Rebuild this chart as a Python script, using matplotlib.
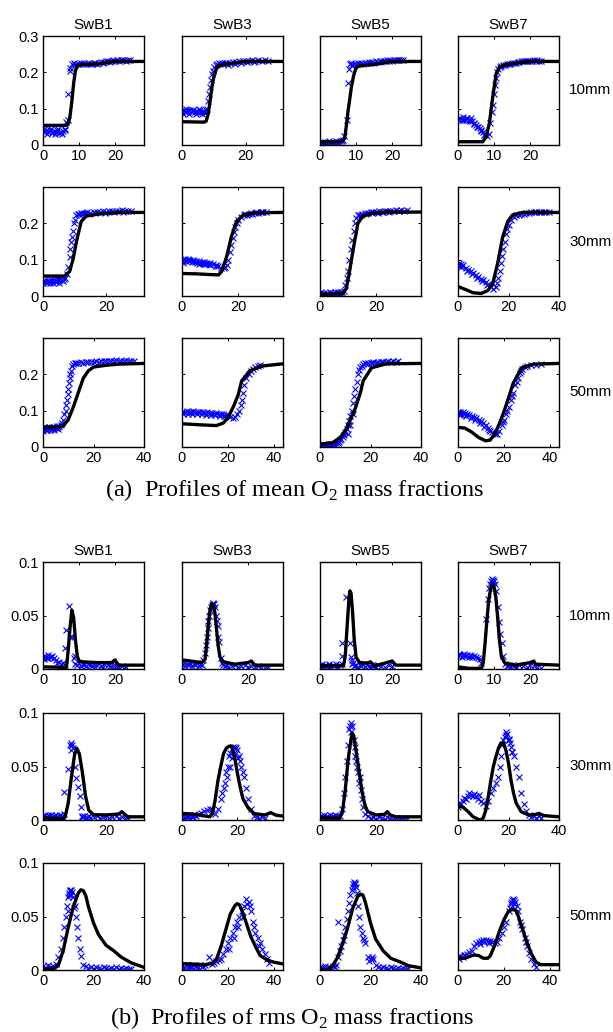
import matplotlib
matplotlib.use("Agg")
import matplotlib.pyplot as plt

plt.rcParams['font.family'] = 'Liberation Sans'
plt.rcParams['mathtext.fontset'] = 'custom'
plt.rcParams['mathtext.rm'] = 'Liberation Serif'

cases = ['SwB1', 'SwB3', 'SwB5', 'SwB7']
heights = ['10mm', '30mm', '50mm']

# ---------------- (a) mean O2 mass fraction ----------------
# SwB1
mean_B1_10_lx = [0, 6.5, 7.0, 7.5, 8.0, 8.5, 9.0, 9.5, 10.5, 13, 15, 17, 19, 20, 28]
mean_B1_10_ly = [0.054, 0.054, 0.058, 0.08, 0.12, 0.17, 0.205, 0.218, 0.221, 0.222, 0.223, 0.226, 0.229, 0.23, 0.23]
mean_B1_10_mx = [0, 0.5, 1, 1.5, 2, 2.5, 3, 3.5, 4, 4.5, 5, 5.5, 6, 0.3, 1.2, 2.2, 3.2, 4.2, 5.2, 6.2,
                 6.5, 6.8, 7.0, 7.4, 7.6, 8, 8.5, 9, 9.5, 10, 10.5, 11, 11.5, 12, 12.5, 13, 13.5, 14, 14.5,
                 15, 15.5, 16, 16.5, 17, 17.5, 18, 18.5, 19, 19.5, 20, 20.5, 21, 21.5, 22, 22.5, 23, 23.5, 24]
mean_B1_10_my = [0.04, 0.035, 0.042, 0.036, 0.04, 0.033, 0.038, 0.035, 0.04, 0.032, 0.036, 0.038, 0.04,
                 0.045, 0.03, 0.044, 0.031, 0.043, 0.03, 0.045,
                 0.062, 0.07, 0.14, 0.205, 0.212, 0.222, 0.225, 0.22, 0.224, 0.223, 0.226, 0.222, 0.225,
                 0.223, 0.226, 0.224, 0.222, 0.225, 0.226, 0.224, 0.227, 0.228, 0.226, 0.229, 0.23, 0.231,
                 0.229, 0.232, 0.233, 0.231, 0.234, 0.232, 0.235, 0.233, 0.234, 0.232, 0.234, 0.233]

mean_B1_30_lx = [0, 6.8, 8.4, 9.5, 10.7, 12.1, 13.7, 17.9, 24.2, 32]
mean_B1_30_ly = [0.055, 0.055, 0.067, 0.1, 0.154, 0.205, 0.22, 0.226, 0.23, 0.23]
mean_B1_30_mx = [0, 0.5, 1, 1.5, 2, 2.5, 3, 3.5, 4, 4.5, 5, 5.5, 6, 6.5, 7, 0.2, 1.2, 2.2, 3.2, 4.2, 5.2, 6.2,
                 7.5, 8, 8.4, 8.7, 9, 9.3, 9.5, 9.7, 10, 10.5, 11, 11.5, 12, 12.5, 13, 13.5, 14, 15, 16,
                 17, 18, 19, 20, 21, 22, 23, 24, 25, 26, 27, 28, 14.5, 16.5, 19.5, 22.5, 25.5]
mean_B1_30_my = [0.035, 0.04, 0.038, 0.042, 0.04, 0.044, 0.041, 0.045, 0.042, 0.046, 0.043, 0.047, 0.045,
                 0.048, 0.05, 0.045, 0.036, 0.037, 0.036, 0.038, 0.037, 0.04,
                 0.06, 0.08, 0.108, 0.13, 0.15, 0.163, 0.18, 0.2, 0.21, 0.223, 0.226, 0.225, 0.228, 0.227,
                 0.229, 0.228, 0.23, 0.229, 0.231, 0.232, 0.231, 0.233, 0.232, 0.234, 0.233, 0.235, 0.234,
                 0.236, 0.235, 0.234, 0.235, 0.226, 0.228, 0.229, 0.231, 0.232]

mean_B1_50_lx = [0, 6, 8, 10, 12, 14, 16, 18, 20, 25, 30, 40]
mean_B1_50_ly = [0.055, 0.055, 0.058, 0.075, 0.11, 0.15, 0.19, 0.21, 0.22, 0.225, 0.228, 0.23]
mean_B1_50_mx = [0, 0.5, 1, 1.5, 2, 2.5, 3, 3.5, 4, 4.5, 5, 5.5, 6, 6.5, 7, 0.3, 1.5, 3, 4.5, 6,
                 7.5, 8, 8.5, 9, 9.3, 9.5, 9.8, 10, 10.3, 10.5, 10.8, 11, 11.5, 12, 12.5, 13, 14, 15, 16,
                 17, 18, 19, 20, 21, 22, 23, 24, 25, 26, 27, 28, 29, 30, 31, 32, 33, 34, 35, 36]
mean_B1_50_my = [0.045, 0.05, 0.048, 0.052, 0.05, 0.054, 0.051, 0.055, 0.052, 0.056, 0.053, 0.057, 0.055,
                 0.058, 0.06, 0.055, 0.046, 0.047, 0.048, 0.05,
                 0.065, 0.075, 0.09, 0.1, 0.115, 0.13, 0.145, 0.16, 0.175, 0.19, 0.2, 0.21, 0.222, 0.228,
                 0.23, 0.232, 0.231, 0.233, 0.232, 0.234, 0.233, 0.235, 0.234, 0.236, 0.235, 0.237, 0.236,
                 0.238, 0.237, 0.238, 0.237, 0.239, 0.238, 0.237, 0.238, 0.239, 0.238, 0.237, 0.238]

# SwB3
mean_B3_10_lx = [0, 7, 7.6, 8.2, 8.8, 9.4, 10, 10.8, 11.6, 13, 16, 20, 31.7]
mean_B3_10_ly = [0.064, 0.063, 0.066, 0.085, 0.12, 0.16, 0.188, 0.21, 0.218, 0.221, 0.225, 0.23, 0.23]
mean_B3_10_mx = [0, 0.5, 1, 1.5, 2, 2.5, 3, 3.5, 4, 4.5, 5, 5.5, 6, 6.5, 7, 7.5, 0.3, 1.3, 2.3, 3.3, 4.3,
                 5.3, 6.3, 7.3, 8, 8.3, 8.6, 8.9, 9.2, 9.5, 9.8, 10.2, 10.6, 11, 11.5, 12, 12.5, 13, 13.5,
                 14, 15, 16, 17, 18, 19, 20, 21, 22, 23, 24, 25, 26, 27, 14.5, 16.5, 18.5, 20.5, 22.5]
mean_B3_10_my = [0.09, 0.095, 0.092, 0.096, 0.093, 0.097, 0.092, 0.095, 0.09, 0.094, 0.091, 0.095, 0.09,
                 0.094, 0.092, 0.095, 0.085, 0.098, 0.086, 0.097, 0.086, 0.098, 0.086, 0.088,
                 0.1, 0.12, 0.14, 0.16, 0.18, 0.195, 0.205, 0.215, 0.22, 0.222, 0.225, 0.223, 0.226,
                 0.224, 0.227, 0.225, 0.227, 0.228, 0.229, 0.23, 0.231, 0.232, 0.231, 0.233, 0.232, 0.233,
                 0.232, 0.233, 0.231, 0.221, 0.224, 0.226, 0.228, 0.229]

mean_B3_30_lx = [0, 5, 10, 13, 14.1, 15.9, 17.6, 19.4, 21.8, 25.3, 36]
mean_B3_30_ly = [0.062, 0.061, 0.059, 0.058, 0.067, 0.108, 0.163, 0.205, 0.223, 0.229, 0.23]
mean_B3_30_mx = [0, 0.5, 1, 1.5, 2, 2.5, 3, 3.5, 4, 4.5, 5, 5.5, 6, 6.5, 7, 7.5, 8, 8.5, 9, 9.5, 10,
                 11, 12, 13, 14, 15, 0.5, 2, 4, 6, 8, 10, 12, 15.5, 16, 16.5, 17, 17.5, 18, 18.5, 19,
                 19.5, 20, 21, 22, 23, 24, 25, 26, 27, 28, 29, 30, 22.5, 24.5, 26.5, 28.5]
mean_B3_30_my = [0.1, 0.097, 0.101, 0.096, 0.099, 0.095, 0.098, 0.094, 0.097, 0.093, 0.096, 0.092, 0.095,
                 0.091, 0.094, 0.09, 0.093, 0.089, 0.092, 0.088, 0.09, 0.088, 0.086, 0.083, 0.078, 0.076,
                 0.092, 0.102, 0.1, 0.089, 0.088, 0.085, 0.082,
                 0.08, 0.085, 0.1, 0.12, 0.14, 0.16, 0.175, 0.19, 0.2, 0.21, 0.218, 0.222, 0.224, 0.226,
                 0.227, 0.228, 0.229, 0.23, 0.231, 0.232, 0.225, 0.228, 0.23, 0.232]

mean_B3_50_lx = [0, 8, 15, 18, 20.2, 22.4, 24.5, 26, 29.6, 35, 44]
mean_B3_50_ly = [0.064, 0.061, 0.059, 0.066, 0.083, 0.111, 0.144, 0.182, 0.21, 0.223, 0.229]
mean_B3_50_mx = [0, 1, 2, 3, 4, 5, 6, 7, 8, 9, 10, 11, 12, 13, 14, 15, 16, 17, 18, 19, 0.5, 2.5, 4.5,
                 6.5, 8.5, 10.5, 12.5, 14.5, 16.5, 18.5, 20, 21, 22, 23, 24, 25, 25.5, 26, 26.5, 27, 28,
                 29, 30, 31, 32, 33, 34]
mean_B3_50_my = [0.097, 0.096, 0.098, 0.097, 0.096, 0.098, 0.096, 0.097, 0.095, 0.096, 0.094, 0.095,
                 0.093, 0.094, 0.092, 0.093, 0.091, 0.09, 0.09, 0.088, 0.091, 0.092, 0.09, 0.091, 0.09,
                 0.089, 0.088, 0.087, 0.086, 0.084, 0.087, 0.083, 0.08, 0.082, 0.09, 0.1, 0.115, 0.13,
                 0.15, 0.17, 0.19, 0.2, 0.21, 0.215, 0.22, 0.222, 0.225]

# SwB5
mean_B5_10_lx = [0, 5, 6.4, 6.9, 7.4, 7.8, 8.3, 8.7, 9.3, 9.9, 10.6, 12, 15, 20, 28]
mean_B5_10_ly = [0.009, 0.009, 0.012, 0.023, 0.06, 0.096, 0.13, 0.16, 0.19, 0.21, 0.217, 0.219, 0.222, 0.23, 0.23]
mean_B5_10_mx = [0, 0.5, 1, 1.5, 2, 2.5, 3, 3.5, 4, 4.5, 5, 5.5, 6, 0.3, 1.3, 2.3, 3.3, 4.3, 5.3,
                 6.3, 6.6, 7.4, 7.8, 8.0, 8.2, 8.5, 9, 9.5, 10, 10.5, 11, 11.5, 12, 12.5, 13, 13.5, 14,
                 14.5, 15, 15.5, 16, 16.5, 17, 17.5, 18, 18.5, 19, 19.5, 20, 20.5, 21, 21.5, 22, 22.5, 23]
mean_B5_10_my = [0.004, 0.008, 0.005, 0.009, 0.006, 0.01, 0.006, 0.009, 0.005, 0.011, 0.007, 0.012, 0.01,
                 0.002, 0.003, 0.004, 0.003, 0.004, 0.005,
                 0.015, 0.025, 0.069, 0.17, 0.21, 0.222, 0.225, 0.221, 0.224, 0.222, 0.225, 0.223, 0.226,
                 0.224, 0.227, 0.225, 0.228, 0.226, 0.229, 0.227, 0.23, 0.228, 0.231, 0.229, 0.232, 0.23,
                 0.233, 0.231, 0.234, 0.232, 0.235, 0.233, 0.234, 0.233, 0.235, 0.233]

mean_B5_30_lx = [0, 8, 9.4, 10.4, 11.8, 13.5, 15.3, 18.8, 23.5, 36]
mean_B5_30_ly = [0.005, 0.006, 0.021, 0.062, 0.127, 0.2, 0.22, 0.228, 0.231, 0.231]
mean_B5_30_mx = [0, 0.5, 1, 1.5, 2, 2.5, 3, 3.5, 4, 4.5, 5, 5.5, 6, 6.5, 7, 7.5, 8, 0.3, 2, 4, 6,
                 8.5, 9, 9.5, 10, 10.5, 11, 11.5, 12, 12.5, 13, 13.5, 14, 15, 16, 17, 18, 19, 20, 21, 22,
                 23, 24, 25, 26, 27, 28, 29, 30, 31, 14.5, 16.5, 18.5, 20.5, 22.5, 24.5]
mean_B5_30_my = [0.0, 0.006, 0.003, 0.008, 0.004, 0.009, 0.005, 0.01, 0.006, 0.009, 0.005, 0.011, 0.007,
                 0.01, 0.008, 0.012, 0.01, 0.012, 0.001, 0.002, 0.003,
                 0.015, 0.03, 0.05, 0.07, 0.1, 0.13, 0.155, 0.18, 0.2, 0.215, 0.222, 0.224, 0.226, 0.228,
                 0.229, 0.23, 0.231, 0.232, 0.233, 0.232, 0.234, 0.233, 0.235, 0.234, 0.236, 0.235, 0.236,
                 0.235, 0.236, 0.222, 0.226, 0.228, 0.229, 0.23, 0.231]

mean_B5_50_lx = [0, 5, 8, 10, 12, 14, 16, 17.1, 20.4, 26.3, 40]
mean_B5_50_ly = [0.008, 0.012, 0.026, 0.045, 0.074, 0.107, 0.149, 0.182, 0.218, 0.229, 0.23]
mean_B5_50_mx = [0, 0.5, 1, 1.5, 2, 2.5, 3, 3.5, 4, 4.5, 5, 5.5, 6, 6.5, 7, 7.5, 8, 8.5, 9, 9.5,
                 10, 10.5, 11, 11.5, 12, 12.5, 13, 13.5, 14, 14.5, 15, 15.5, 16, 17, 18, 19, 20, 21, 22,
                 23, 24, 25, 26, 27, 28, 29, 30, 31, 16.5, 18.5, 20.5, 22.5, 24.5, 11, 12, 13]
mean_B5_50_my = [-0.002, 0.004, 0.0, 0.005, 0.001, 0.006, 0.002, 0.007, 0.003, 0.008, 0.004, 0.009,
                 0.006, 0.01, 0.01, 0.015, 0.018, 0.022, 0.028, 0.033, 0.04, 0.05, 0.06, 0.072, 0.085,
                 0.1, 0.12, 0.14, 0.16, 0.18, 0.2, 0.212, 0.22, 0.228, 0.23, 0.231, 0.232, 0.233, 0.232,
                 0.234, 0.233, 0.235, 0.234, 0.236, 0.235, 0.236, 0.235, 0.236, 0.224, 0.229, 0.23, 0.232,
                 0.233, 0.035, 0.06, 0.09]

# SwB7
mean_B7_10_lx = [0, 6.9, 7.8, 8.7, 9.6, 10.6, 11.5, 13.3, 16, 20, 28]
mean_B7_10_ly = [0.009, 0.009, 0.023, 0.06, 0.13, 0.197, 0.215, 0.222, 0.225, 0.23, 0.23]
mean_B7_10_mx = [0, 0.5, 1, 1.5, 2, 2.5, 3, 3.5, 0.3, 1.3, 2.3, 3.3, 4, 4.5, 5, 5.5, 6, 6.5, 7, 7.5, 8,
                 4.3, 5.3, 6.3, 7.3, 8.5, 9, 9.3, 9.6, 9.9, 10.2, 10.5, 10.8, 11.2, 11.6, 12, 12.5, 13,
                 13.5, 14, 14.5, 15, 15.5, 16, 16.5, 17, 17.5, 18, 18.5, 19, 19.5, 20, 20.5, 21, 21.5,
                 22, 22.5, 23]
mean_B7_10_my = [0.072, 0.075, 0.07, 0.076, 0.071, 0.075, 0.07, 0.074, 0.068, 0.068, 0.069, 0.067,
                 0.065, 0.06, 0.056, 0.05, 0.046, 0.04, 0.036, 0.03, 0.025, 0.058, 0.05, 0.038, 0.027,
                 0.03, 0.06, 0.09, 0.11, 0.14, 0.165, 0.185, 0.2, 0.21, 0.215, 0.218, 0.22, 0.221, 0.222,
                 0.223, 0.224, 0.225, 0.226, 0.227, 0.228, 0.229, 0.23, 0.231, 0.23, 0.232, 0.231, 0.232,
                 0.231, 0.233, 0.232, 0.233, 0.232, 0.231]

mean_B7_30_lx = [0, 3.3, 5.9, 9.2, 11.8, 13.8, 15.7, 17.7, 19.7, 21.6, 25.6, 40]
mean_B7_30_ly = [0.026, 0.017, 0.009, 0.007, 0.015, 0.035, 0.09, 0.163, 0.205, 0.223, 0.23, 0.23]
mean_B7_30_mx = [0, 0.5, 1, 1.5, 2, 0.3, 1.2, 3, 4, 5, 6, 7, 8, 9, 10, 11, 12, 13, 14, 3.5, 5.5, 7.5,
                 9.5, 11.5, 15, 15.5, 16, 16.5, 17, 17.5, 18, 18.5, 19, 19.5, 20, 21, 22, 23, 24, 25, 26,
                 27, 28, 29, 30, 31, 32, 33, 34, 35, 36]
mean_B7_30_my = [0.085, 0.082, 0.088, 0.083, 0.086, 0.09, 0.079, 0.078, 0.072, 0.068, 0.062, 0.058,
                 0.052, 0.048, 0.044, 0.038, 0.032, 0.026, 0.02, 0.07, 0.06, 0.05, 0.04, 0.03,
                 0.025, 0.035, 0.05, 0.07, 0.09, 0.11, 0.13, 0.15, 0.17, 0.185, 0.195, 0.21, 0.218, 0.222,
                 0.224, 0.226, 0.227, 0.228, 0.229, 0.23, 0.231, 0.23, 0.232, 0.231, 0.232, 0.231, 0.232]

mean_B7_50_lx = [0, 3, 6, 9, 12, 14, 16, 18, 20, 22, 24, 27.7, 32.7, 44]
mean_B7_50_ly = [0.054, 0.052, 0.041, 0.026, 0.017, 0.019, 0.036, 0.064, 0.097, 0.135, 0.175, 0.218, 0.228, 0.23]
mean_B7_50_mx = [0, 0.5, 1, 1.5, 2, 2.5, 3, 4, 5, 6, 7, 8, 9, 10, 11, 12, 13, 14, 15, 16, 17, 0.8, 3.5,
                 5.5, 7.5, 9.5, 11.5, 13.5, 18, 19, 20, 21, 22, 23, 24, 25, 26, 27, 28, 29, 30, 32, 34, 36,
                 19.5, 21.5, 23.5, 25.5, 27.5]
mean_B7_50_my = [0.095, 0.092, 0.096, 0.091, 0.095, 0.09, 0.093, 0.09, 0.088, 0.085, 0.082, 0.079, 0.075,
                 0.071, 0.066, 0.06, 0.053, 0.045, 0.04, 0.035, 0.035, 0.087, 0.085, 0.08, 0.074, 0.066,
                 0.056, 0.046, 0.045, 0.06, 0.075, 0.09, 0.11, 0.13, 0.15, 0.17, 0.19, 0.205, 0.215,
                 0.22, 0.222, 0.225, 0.227, 0.228, 0.07, 0.1, 0.14, 0.18, 0.21]

# ---------------- (b) rms O2 mass fraction ----------------
rms_B1_10_lx = [0, 6.5, 7, 7.5, 8, 8.5, 9, 9.5, 10, 11, 15, 19, 20, 20.5, 21, 28]
rms_B1_10_ly = [0.002, 0.0015, 0.018, 0.039, 0.055, 0.048, 0.027, 0.012, 0.0075, 0.0067, 0.006, 0.006,
                0.0085, 0.0055, 0.0036, 0.0036]
rms_B1_10_mx = [0, 0.5, 1, 1.5, 2, 2.5, 3, 0.3, 1.3, 2.3, 3.5, 4, 4.5, 5, 5.5, 6, 6, 6.3, 7.1, 7.4, 8.1,
                8.5, 8.8, 9, 9.5, 10, 10.5, 11, 11.5, 12, 12.5, 13, 13.5, 14, 15, 16, 17, 18, 19, 20, 21,
                22, 23, 14.5, 16.5, 18.5, 20.5, 22.5]
rms_B1_10_my = [0.011, 0.012, 0.01, 0.013, 0.011, 0.012, 0.01, 0.009, 0.01, 0.011, 0.008, 0.006, 0.007,
                0.005, 0.006, 0.004, 0.02, 0.036, 0.059, 0.03, 0.03, 0.01, 0.012, 0.005, 0.004, 0.006,
                0.003, 0.005, 0.004, 0.003, 0.005, 0.004, 0.003, 0.005, 0.004, 0.003, 0.005, 0.004, 0.003,
                0.004, 0.002, 0.003, 0.002, 0.002, 0.002, 0.003, 0.002, 0.001]

rms_B1_30_lx = [0, 6.5, 7, 8, 9, 10, 10.7, 11.5, 12.5, 13.5, 14.5, 16, 20, 24, 25, 26, 27, 32]
rms_B1_30_ly = [0.002, 0.001, 0.003, 0.016, 0.04, 0.061, 0.067, 0.062, 0.044, 0.022, 0.009, 0.005,
                0.0047, 0.0056, 0.0078, 0.005, 0.003, 0.003]
rms_B1_30_mx = [0, 0.5, 1, 1.5, 2, 2.5, 3, 3.5, 4, 4.5, 5, 5.5, 6, 6.5, 6.8, 7.9, 8.6, 9, 9.5, 10, 10.5,
                11, 11.6, 11.9, 12.2, 12.5, 13, 13.5, 14, 14.5, 15, 16, 17, 18, 19, 20, 21, 22, 23, 24,
                25, 26, 27, 9.2, 8.9]
rms_B1_30_my = [0.004, 0.005, 0.003, 0.005, 0.004, 0.005, 0.003, 0.004, 0.005, 0.003, 0.004, 0.005,
                0.004, 0.006, 0.026, 0.048, 0.07, 0.072, 0.067, 0.05, 0.039, 0.031, 0.022, 0.012, 0.004,
                0.003, 0.004, 0.002, 0.003, 0.004, 0.002, 0.003, 0.004, 0.002, 0.003, 0.004, 0.002,
                0.003, 0.004, 0.002, 0.003, 0.002, 0.001, 0.07, 0.065]

rms_B1_50_lx = [0, 4, 6, 8, 10, 12, 14, 15, 16, 17, 18, 20, 22, 25, 28, 31, 35, 40]
rms_B1_50_ly = [0.001, 0.001, 0.004, 0.018, 0.04, 0.059, 0.072, 0.075, 0.074, 0.069, 0.059, 0.044,
                0.033, 0.023, 0.018, 0.012, 0.0066, 0.0025]
rms_B1_50_mx = [0, 1, 2, 3, 4, 5, 6, 7, 8, 8.5, 9, 9.5, 10, 10.3, 10.5, 10.8, 11, 11.5, 12, 12.5, 13,
                13.5, 14, 14.5, 15, 16, 17, 18, 19, 20, 21, 22, 23, 24, 25, 26, 27, 28, 29, 30, 31, 32,
                33, 34, 35, 0.5, 2.5, 9.8, 10.2, 11.2, 12.2]
rms_B1_50_my = [0.004, 0.002, 0.005, 0.003, 0.004, 0.006, 0.012, 0.02, 0.03, 0.04, 0.05, 0.06, 0.068,
                0.072, 0.074, 0.075, 0.075, 0.073, 0.068, 0.06, 0.05, 0.04, 0.03, 0.02, 0.013, 0.005,
                0.004, 0.002, 0.003, 0.001, 0.003, 0.002, 0.001, 0.003, 0.002, 0.001, 0.002, 0.001,
                0.003, 0.001, 0.002, 0.001, 0.002, 0.001, 0.001, 0.001, 0.002, 0.055, 0.07, 0.07, 0.058]

rms_B3_10_lx = [0, 6, 7, 7.5, 8, 8.5, 9, 9.5, 10, 10.5, 11, 11.5, 12.5, 16, 20, 21, 22, 30.6]
rms_B3_10_ly = [0.0085, 0.006, 0.009, 0.024, 0.042, 0.055, 0.061, 0.06, 0.052, 0.036, 0.021, 0.011,
                0.0067, 0.0045, 0.006, 0.0075, 0.0036, 0.0036]
rms_B3_10_mx = [0, 0.5, 1, 1.5, 2, 2.5, 3, 3.5, 4, 4.5, 5, 5.5, 6, 6.5, 7, 7.3, 7.5, 7.8, 8, 8.3, 8.5,
                8.8, 9, 9.3, 9.5, 9.8, 10, 10.3, 10.6, 10.8, 11, 11.3, 11.8, 12, 12.5, 13, 13.5, 14, 15,
                16, 17, 18, 19, 20, 21, 22, 23, 24, 25, 26]
rms_B3_10_my = [0.004, 0.006, 0.003, 0.005, 0.004, 0.006, 0.003, 0.005, 0.004, 0.006, 0.003, 0.005,
                0.004, 0.008, 0.015, 0.022, 0.03, 0.038, 0.045, 0.05, 0.055, 0.058, 0.06, 0.061, 0.062,
                0.061, 0.058, 0.05, 0.045, 0.04, 0.03, 0.025, 0.01, 0.006, 0.004, 0.003, 0.004, 0.002,
                0.003, 0.004, 0.002, 0.003, 0.004, 0.002, 0.003, 0.002, 0.003, 0.002, 0.001, 0.002]

rms_B3_30_lx = [0, 5, 10, 11, 12, 13, 14, 15, 16, 17, 18, 19, 20, 21, 22, 24, 26, 30, 32, 34, 36.5]
rms_B3_30_ly = [0.0062, 0.0053, 0.003, 0.006, 0.019, 0.037, 0.05, 0.062, 0.067, 0.069, 0.069, 0.059,
                0.044, 0.031, 0.02, 0.011, 0.006, 0.0047, 0.0069, 0.0045, 0.0037]
rms_B3_30_mx = [0, 0.5, 1, 1.5, 2, 2.5, 3, 3.5, 4, 4.5, 5, 6, 7, 8, 9, 10, 11, 12, 13, 14, 14.5, 15, 15.5,
                16, 16.5, 17, 17.5, 18, 18.5, 19, 19.5, 20, 20.5, 21, 21.5, 22, 22.5, 23, 24, 25, 26, 27,
                28, 29, 30, 17.2, 18.2, 19.2, 20.2, 16.2]
rms_B3_30_my = [0.003, 0.005, 0.002, 0.004, 0.003, 0.005, 0.002, 0.004, 0.003, 0.005, 0.004, 0.006,
                0.007, 0.008, 0.009, 0.01, 0.01, 0.006, 0.01, 0.02, 0.025, 0.03, 0.035, 0.045, 0.05,
                0.06, 0.063, 0.066, 0.068, 0.068, 0.067, 0.065, 0.06, 0.055, 0.05, 0.045, 0.04, 0.03,
                0.02, 0.01, 0.004, 0.003, 0.002, 0.003, 0.002, 0.05, 0.058, 0.062, 0.058, 0.04]

rms_B3_50_lx = [0, 10, 13, 15, 17, 19, 21, 23, 24, 25, 26, 28, 30, 32, 34, 37, 40, 44]
rms_B3_50_ly = [0.006, 0.005, 0.006, 0.01, 0.022, 0.037, 0.052, 0.06, 0.062, 0.061, 0.056, 0.044,
                0.031, 0.022, 0.0136, 0.0095, 0.0073, 0.0057]
rms_B3_50_mx = [0, 1, 2, 3, 4, 5, 6, 7, 8, 9, 10, 11.6, 13, 14, 15, 16, 17, 18, 19, 20, 21, 22, 23, 24,
                25, 26, 27, 28, 29, 30, 31, 32, 33, 34, 35, 36, 37, 38, 0.5, 2.5, 4.5, 6.5, 8.5, 20.5,
                22.5, 24.5, 26.5, 28.5, 29.5, 31.5, 33.5]
rms_B3_50_my = [0.004, 0.003, 0.005, 0.004, 0.003, 0.005, 0.004, 0.003, 0.005, 0.004, 0.005, 0.012,
                0.006, 0.007, 0.008, 0.009, 0.01, 0.015, 0.02, 0.025, 0.03, 0.035, 0.04, 0.045, 0.05,
                0.055, 0.06, 0.066, 0.064, 0.055, 0.045, 0.035, 0.03, 0.025, 0.02, 0.015, 0.01, 0.007,
                0.002, 0.002, 0.003, 0.002, 0.003, 0.02, 0.03, 0.04, 0.05, 0.062, 0.06, 0.04, 0.022]

rms_B5_10_lx = [0, 6.5, 7, 7.5, 8, 8.3, 8.6, 9, 9.5, 10, 11, 13, 14, 15, 17, 20, 21, 28]
rms_B5_10_ly = [0.003, 0.003, 0.012, 0.039, 0.064, 0.073, 0.071, 0.055, 0.027, 0.011, 0.006, 0.0055,
                0.0067, 0.003, 0.0045, 0.0075, 0.0036, 0.0036]
rms_B5_10_mx = [0, 0.5, 1, 1.5, 2, 2.5, 3, 3.5, 4, 4.5, 5, 5.5, 6, 6, 6.2, 7.1, 8.3, 8.7, 9, 9.5, 10,
                10.5, 11, 11.5, 12, 12.5, 13, 13.5, 14, 14.5, 15, 15.5, 16, 17, 18, 19, 20, 0.3, 2.3, 4.3,
                8.8, 9.2]
rms_B5_10_my = [0.003, 0.005, 0.002, 0.004, 0.003, 0.005, 0.002, 0.004, 0.003, 0.005, 0.002, 0.004,
                0.005, 0.012, 0.024, 0.067, 0.024, 0.011, 0.005, 0.003, 0.004, 0.002, 0.004, 0.003,
                0.005, 0.002, 0.004, 0.003, 0.002, 0.004, 0.003, 0.002, 0.004, 0.003, 0.002, 0.004,
                0.003, 0.001, 0.001, 0.001, 0.008, 0.006]

rms_B5_30_lx = [0, 7, 8, 9, 10, 11, 11.5, 12, 13, 14, 15, 16, 17, 20, 23, 24, 25, 27, 36]
rms_B5_30_ly = [0.002, 0.0016, 0.0078, 0.028, 0.056, 0.075, 0.081, 0.079, 0.062, 0.044, 0.026, 0.014,
                0.0078, 0.0047, 0.0053, 0.0078, 0.0047, 0.003, 0.003]
rms_B5_30_mx = [0, 0.5, 1, 1.5, 2, 2.5, 3, 3.5, 4, 4.5, 5, 5.5, 6, 6.5, 7, 8, 8.5, 9, 9.5, 10, 10.5, 11,
                11.5, 12, 12.5, 13, 13.5, 14, 14.5, 15, 15.5, 16, 17, 18, 19, 20, 21, 22, 23, 24, 25, 26,
                27, 28, 29, 30, 31, 10.8, 11.2, 12.3, 13.2, 14.2]
rms_B5_30_my = [0.002, 0.004, 0.003, 0.005, 0.002, 0.004, 0.003, 0.005, 0.002, 0.004, 0.003, 0.005,
                0.004, 0.003, 0.004, 0.01, 0.025, 0.04, 0.055, 0.07, 0.085, 0.091, 0.088, 0.075, 0.06,
                0.055, 0.045, 0.035, 0.028, 0.02, 0.012, 0.006, 0.004, 0.002, 0.003, 0.001, 0.003, 0.002,
                0.001, 0.003, 0.002, 0.001, 0.002, 0.001, 0.002, 0.001, 0.001, 0.088, 0.082, 0.068,
                0.05, 0.04]

rms_B5_50_lx = [0, 3, 5, 7, 9, 11, 13, 15, 16, 17, 18, 20, 22, 25, 28, 32, 35, 40]
rms_B5_50_ly = [0.0, 0.0, 0.004, 0.012, 0.025, 0.04, 0.058, 0.069, 0.071, 0.07, 0.063, 0.044, 0.029,
                0.018, 0.011, 0.0073, 0.004, 0.002]
rms_B5_50_mx = [0, 1, 2, 3, 4, 5, 6, 6.5, 7, 7.3, 8, 8.5, 9, 9.5, 10, 10.5, 11, 11.5, 12, 12.5, 13, 13.5,
                14, 14.5, 15, 15.5, 16, 16.5, 17, 17.5, 18, 19, 20, 21, 22, 23, 24, 25, 26, 27, 28, 29,
                30, 31, 32, 33, 34, 35, 0.5, 2.5, 4.5, 13.2, 13.8, 14.2, 19.5, 20.5]
rms_B5_50_my = [0.003, 0.002, 0.004, 0.003, 0.002, 0.004, 0.003, 0.005, 0.012, 0.045, 0.018, 0.022,
                0.028, 0.033, 0.04, 0.048, 0.055, 0.063, 0.07, 0.075, 0.08, 0.082, 0.08, 0.072, 0.06,
                0.05, 0.04, 0.035, 0.03, 0.028, 0.025, 0.012, 0.01, 0.01, 0.005, 0.003, 0.002, 0.003,
                0.002, 0.001, 0.003, 0.002, 0.001, 0.002, 0.001, 0.002, 0.001, 0.001, 0.002, 0.001,
                0.002, 0.078, 0.081, 0.078, 0.008, 0.012]

rms_B7_10_lx = [0, 3, 6.5, 7, 7.5, 8, 8.5, 9, 9.5, 10, 10.5, 11, 11.5, 12, 13, 16, 20, 21, 21.5, 28]
rms_B7_10_ly = [0.002, 0.0006, 0.0006, 0.006, 0.024, 0.045, 0.064, 0.074, 0.079, 0.077, 0.067, 0.048,
                0.027, 0.012, 0.0055, 0.0036, 0.006, 0.0075, 0.0045, 0.0036]
rms_B7_10_mx = [0, 0.5, 1, 1.5, 2, 2.5, 3, 3.5, 4, 4.5, 5, 5.5, 6, 6.5, 7.8, 8.3, 8.7, 9.2, 9.6, 10.1,
                10.6, 11, 11.5, 11.7, 12.1, 12.4, 13, 13.5, 14, 14.5, 15, 15.5, 16, 17, 18, 19, 20, 21,
                22, 23, 9.4, 9.8, 9.0, 10.3, 0.3, 1.8, 3.3]
rms_B7_10_my = [0.012, 0.013, 0.011, 0.013, 0.012, 0.013, 0.011, 0.012, 0.011, 0.012, 0.011, 0.01,
                0.009, 0.006, 0.047, 0.065, 0.076, 0.082, 0.083, 0.082, 0.073, 0.058, 0.044, 0.033,
                0.024, 0.012, 0.005, 0.003, 0.004, 0.002, 0.004, 0.003, 0.002, 0.004, 0.003, 0.002,
                0.004, 0.003, 0.002, 0.001, 0.084, 0.081, 0.079, 0.079, 0.014, 0.014, 0.013]

rms_B7_30_lx = [0, 2, 4, 6, 8, 9, 10, 11, 12, 13, 14, 15, 16, 17, 18, 19, 20, 21, 22, 23, 25, 28, 31,
                32, 34, 40]
rms_B7_30_ly = [0.013, 0.012, 0.0078, 0.003, 0.0006, 0.0, 0.002, 0.009, 0.022, 0.037, 0.05, 0.059,
                0.067, 0.072, 0.072, 0.065, 0.053, 0.037, 0.025, 0.016, 0.0078, 0.0047, 0.0053, 0.0062,
                0.0041, 0.003]
rms_B7_30_mx = [0, 1, 2, 3, 4, 5, 6, 7, 8, 9, 10, 11, 12, 13, 14, 15, 16, 16.5, 17, 17.5, 18, 18.5, 19,
                19.5, 20, 20.5, 21, 21.5, 22, 23, 24, 25, 26, 27, 28, 29, 30, 31, 32, 33, 0.5, 2.5, 4.5,
                6.5, 8.5, 19.2, 20.2, 21.2]
rms_B7_30_my = [0.012, 0.015, 0.018, 0.02, 0.022, 0.023, 0.022, 0.022, 0.02, 0.018, 0.016, 0.013,
                0.018, 0.025, 0.03, 0.035, 0.04, 0.05, 0.06, 0.07, 0.075, 0.078, 0.079, 0.08, 0.076,
                0.072, 0.068, 0.064, 0.06, 0.05, 0.04, 0.025, 0.015, 0.008, 0.005, 0.003, 0.004, 0.002,
                0.004, 0.002, 0.016, 0.021, 0.025, 0.024, 0.023, 0.082, 0.075, 0.064]

rms_B7_50_lx = [0, 3, 5, 7, 9, 11, 13, 14, 16, 18, 20, 22, 24, 25, 26, 28, 30, 32, 34, 36, 40, 44]
rms_B7_50_ly = [0.011, 0.011, 0.0127, 0.014, 0.0135, 0.011, 0.011, 0.013, 0.023, 0.036, 0.047, 0.055,
                0.057, 0.056, 0.052, 0.039, 0.026, 0.015, 0.0073, 0.005, 0.005, 0.005]
rms_B7_50_mx = [0, 1, 2, 3, 4, 5, 6, 7, 8, 9, 10, 11, 12, 13, 14, 15, 16, 17, 18, 19, 20, 21, 22, 23,
                23.5, 24, 24.5, 25, 26, 27, 28, 29, 30, 31, 32, 33, 34, 0.5, 2.5, 9.5, 11.5, 13.5,
                22.5, 23.2, 24.2, 25.5, 27.5, 29.5]
rms_B7_50_my = [0.012, 0.013, 0.012, 0.014, 0.015, 0.017, 0.018, 0.022, 0.025, 0.026, 0.027, 0.028,
                0.028, 0.027, 0.027, 0.026, 0.025, 0.026, 0.03, 0.035, 0.04, 0.045, 0.055, 0.062, 0.065,
                0.066, 0.065, 0.064, 0.055, 0.045, 0.038, 0.03, 0.022, 0.016, 0.01, 0.006, 0.003,
                0.01, 0.014, 0.024, 0.026, 0.025, 0.058, 0.064, 0.062, 0.06, 0.042, 0.026]

# x-limits / x-ticks per height row, per case column
xlims = {
    'mean': [[28, 31.7, 28, 28], [32, 36, 36, 40], [40, 44, 40, 44]],
    'rms': [[28, 30.6, 28, 28], [32, 36.5, 36, 40], [40, 44, 40, 44]],
}
xticks_rows = [[[0, 10, 20], [0, 20], [0, 10, 20], [0, 10, 20]],
               [[0, 20], [0, 20], [0, 20], [0, 20, 40]],
               [[0, 20, 40], [0, 20, 40], [0, 20, 40], [0, 20, 40]]]

panels = {
    'mean': [
        [(mean_B1_10_lx, mean_B1_10_ly, mean_B1_10_mx, mean_B1_10_my),
         (mean_B3_10_lx, mean_B3_10_ly, mean_B3_10_mx, mean_B3_10_my),
         (mean_B5_10_lx, mean_B5_10_ly, mean_B5_10_mx, mean_B5_10_my),
         (mean_B7_10_lx, mean_B7_10_ly, mean_B7_10_mx, mean_B7_10_my)],
        [(mean_B1_30_lx, mean_B1_30_ly, mean_B1_30_mx, mean_B1_30_my),
         (mean_B3_30_lx, mean_B3_30_ly, mean_B3_30_mx, mean_B3_30_my),
         (mean_B5_30_lx, mean_B5_30_ly, mean_B5_30_mx, mean_B5_30_my),
         (mean_B7_30_lx, mean_B7_30_ly, mean_B7_30_mx, mean_B7_30_my)],
        [(mean_B1_50_lx, mean_B1_50_ly, mean_B1_50_mx, mean_B1_50_my),
         (mean_B3_50_lx, mean_B3_50_ly, mean_B3_50_mx, mean_B3_50_my),
         (mean_B5_50_lx, mean_B5_50_ly, mean_B5_50_mx, mean_B5_50_my),
         (mean_B7_50_lx, mean_B7_50_ly, mean_B7_50_mx, mean_B7_50_my)]],
    'rms': [
        [(rms_B1_10_lx, rms_B1_10_ly, rms_B1_10_mx, rms_B1_10_my),
         (rms_B3_10_lx, rms_B3_10_ly, rms_B3_10_mx, rms_B3_10_my),
         (rms_B5_10_lx, rms_B5_10_ly, rms_B5_10_mx, rms_B5_10_my),
         (rms_B7_10_lx, rms_B7_10_ly, rms_B7_10_mx, rms_B7_10_my)],
        [(rms_B1_30_lx, rms_B1_30_ly, rms_B1_30_mx, rms_B1_30_my),
         (rms_B3_30_lx, rms_B3_30_ly, rms_B3_30_mx, rms_B3_30_my),
         (rms_B5_30_lx, rms_B5_30_ly, rms_B5_30_mx, rms_B5_30_my),
         (rms_B7_30_lx, rms_B7_30_ly, rms_B7_30_mx, rms_B7_30_my)],
        [(rms_B1_50_lx, rms_B1_50_ly, rms_B1_50_mx, rms_B1_50_my),
         (rms_B3_50_lx, rms_B3_50_ly, rms_B3_50_mx, rms_B3_50_my),
         (rms_B5_50_lx, rms_B5_50_ly, rms_B5_50_mx, rms_B5_50_my),
         (rms_B7_50_lx, rms_B7_50_ly, rms_B7_50_mx, rms_B7_50_my)]],
}

W, H = 613, 1032
fig = plt.figure(figsize=(W / 100, H / 100), dpi=100)

col_left = [43, 182, 320, 458]
ax_w = 101
row_top = {'mean': [36, 187, 338], 'rms': [562, 713, 863]}
ax_h = {'mean': 109, 'rms': 107}
ylims = {'mean': 0.3, 'rms': 0.1}

for part in ['mean', 'rms']:
    for r in range(3):
        for c in range(4):
            top = row_top[part][r]
            h = ax_h[part]
            ax = fig.add_axes([col_left[c] / W, 1 - (top + h) / H, ax_w / W, h / H])
            lx, ly, mx, my = panels[part][r][c]
            # measurements (blue crosses) under the simulation (black line)
            ax.plot(mx, my, 'x', color='#0000ff', ms=5, mew=0.8)
            ax.plot(lx, ly, '-', color='black', lw=2.4)
            ax.set_xlim(0, xlims[part][r][c])
            ax.set_ylim(0, ylims[part])
            ax.set_xticks(xticks_rows[r][c])
            if part == 'mean':
                ax.set_yticks([0, 0.1, 0.2, 0.3] if r == 0 else [0, 0.1, 0.2])
                ax.set_yticklabels(['0', '0.1', '0.2', '0.3'] if r == 0 else ['0', '0.1', '0.2'])
            else:
                ax.set_yticks([0, 0.05, 0.1])
                ax.set_yticklabels(['0', '0.05', '0.1'])
            if c > 0:
                ax.tick_params(labelleft=False)
            ax.tick_params(direction='in', top=True, right=True, length=2.5, width=0.7,
                           labelsize=10.5, pad=3)
            for s in ax.spines.values():
                s.set_linewidth(1.0)
            if r == 0:
                ax.set_title(cases[c], fontsize=11, pad=5)
            if c == 3:
                ax.text(1.1, 0.5, heights[r], transform=ax.transAxes, fontsize=11,
                        ha='left', va='center')

fig.text(294 / W, 1 - 490 / H, r'(a)  Profiles of mean O$_\mathrm{2}$ mass fractions',
         family='Liberation Serif', fontsize=17.5, ha='center', va='center')
fig.text(292 / W, 1 - 1018 / H, r'(b)  Profiles of rms O$_\mathrm{2}$ mass fractions',
         family='Liberation Serif', fontsize=17.5, ha='center', va='center')

fig.savefig('out.png', dpi=100)
